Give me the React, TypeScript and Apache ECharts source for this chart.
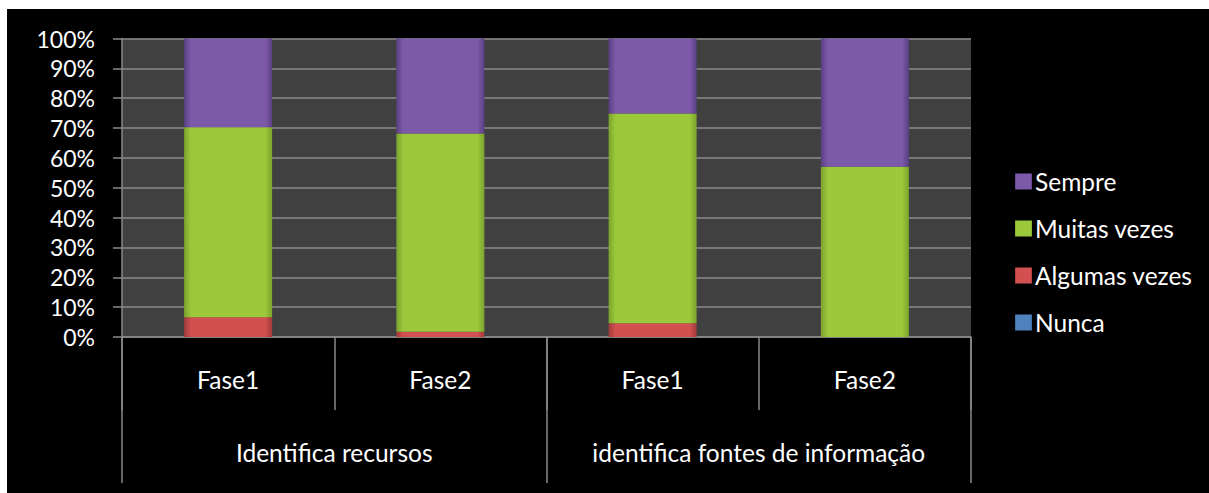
import React, { useEffect, useRef } from "react";
import * as echarts from "echarts";

// Phase labels (first level of the category axis) and their groups (second level)
const phases = ["Fase1", "Fase2", "Fase1", "Fase2"];
const groups = ["Identifica recursos", "identifica fontes de informação"];

// Share of answers per phase, in percent
const nunca = [0, 0, 0, 0];
const algumas = [6.6, 1.8, 4.6, 0];
const muitas = [63.7, 66.4, 70.3, 57.0];
const sempre = [29.7, 31.8, 25.1, 43.0];

const legendOrder = ["Sempre", "Muitas vezes", "Algumas vezes", "Nunca"];

const FONT = "Lato, 'Open Sans', sans-serif";

// Horizontal gradient giving the bars a slightly bevelled look
function bevel(edge: string, mid: string) {
  return {
    type: "linear",
    x: 0,
    y: 0,
    x2: 1,
    y2: 0,
    colorStops: [
      { offset: 0, color: edge },
      { offset: 0.08, color: mid },
      { offset: 0.92, color: mid },
      { offset: 1, color: edge },
    ],
  };
}

export default function App() {
  const ref = useRef<HTMLDivElement>(null);

  useEffect(() => {
    document.body.style.margin = "0";
    if (!ref.current) return;
    const chart = echarts.init(ref.current, undefined, { renderer: "svg" });

    const mkSeries = (name: string, data: number[], color: any) => ({
      name,
      type: "bar",
      stack: "total",
      barWidth: 88,
      data,
      itemStyle: { color },
      emphasis: { disabled: true },
    });

    const grey = "#8a8a8a";

    chart.setOption({
      animation: false,
      backgroundColor: "#000000",
      textStyle: { fontFamily: FONT },
      grid: {
        left: 115,
        right: 238,
        top: 29.5,
        bottom: 156,
        show: true,
        backgroundColor: "#404040",
        borderWidth: 0,
      },
      legend: {
        orient: "vertical",
        left: 1003,
        top: 155,
        itemWidth: 17,
        itemHeight: 16,
        itemGap: 22,
        icon: "rect",
        data: legendOrder,
        textStyle: {
          color: "#ffffff",
          fontSize: 24.5,
          fontFamily: FONT,
          padding: [0, 0, 0, -2],
        },
      },
      xAxis: [
        {
          type: "category",
          data: phases,
          position: "bottom",
          axisLine: { show: true, lineStyle: { color: grey, width: 1.5 } },
          axisTick: {
            show: true,
            length: 73,
            interval: 0,
            lineStyle: { color: grey, width: 1.5 },
          },
          axisLabel: {
            color: "#ffffff",
            fontSize: 24.5,
            fontFamily: FONT,
            margin: 30,
            interval: 0,
          },
          splitLine: { show: false },
        },
        {
          type: "category",
          data: groups,
          position: "bottom",
          offset: 0,
          axisLine: { show: false },
          axisTick: {
            show: true,
            length: 146,
            interval: 0,
            lineStyle: { color: grey, width: 1.5 },
          },
          axisLabel: {
            color: "#ffffff",
            fontSize: 24.5,
            fontFamily: FONT,
            margin: 103,
            interval: 0,
          },
          splitLine: { show: false },
        },
      ],
      yAxis: {
        type: "value",
        min: 0,
        max: 100,
        interval: 10,
        axisLine: { show: true, lineStyle: { color: grey, width: 1.5 } },
        axisTick: { show: true, length: 9, lineStyle: { color: grey, width: 1.5 } },
        axisLabel: {
          color: "#ffffff",
          fontSize: 23,
          fontFamily: FONT,
          margin: 27,
          formatter: "{value}%",
        },
        splitLine: { show: true, lineStyle: { color: grey, width: 1.5 } },
      },
      series: [
        mkSeries("Nunca", nunca, bevel("#3b659a", "#4f81bd")),
        mkSeries("Algumas vezes", algumas, bevel("#a33a3a", "#d35050")),
        mkSeries("Muitas vezes", muitas, bevel("#7ba42c", "#9cc83c")),
        mkSeries("Sempre", sempre, bevel("#5a3f85", "#7d5aa9")),
      ],
    });

    return () => chart.dispose();
  }, []);

  return (
    <div style={{ position: "relative", width: 1209, height: 493, background: "#ffffff" }}>
      <div
        ref={ref}
        style={{ position: "absolute", left: 7, top: 9, width: 1202, height: 484 }}
      />
    </div>
  );
}
